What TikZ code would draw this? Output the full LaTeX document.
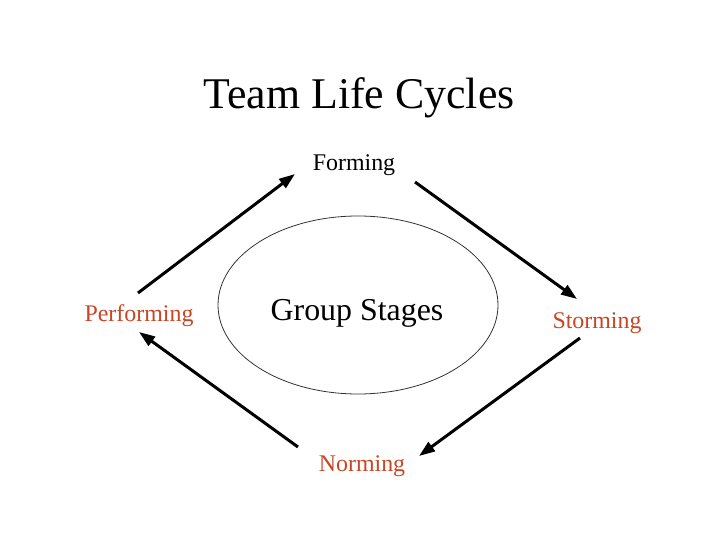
\documentclass[tikz,border=0pt]{standalone}
\usepackage{fontspec}
\setmainfont{Liberation Serif}
\usetikzlibrary{arrows.meta}
\definecolor{stagered}{RGB}{200,70,35}
\tikzset{
  stage/.style={font=\fontsize{24}{28}\selectfont, inner sep=0pt},
  cyclearrow/.style={line width=3bp, -{Triangle[length=16bp,width=11bp]}, shorten >=0bp},
}
\begin{document}
\begin{tikzpicture}[x=1bp,y=-1bp]
\useasboundingbox (0,0) rectangle (720,540);
\node[inner sep=0pt, font=\fontsize{44}{50}\selectfont] (title) at (359,98) {Team Life Cycles};
\node[stage] (forming) at (354,165) {Forming};
\node[stage, text=stagered] (performing) at (139,316) {Performing};
\node[stage, text=stagered] (storming) at (597,323) {Storming};
\node[stage, text=stagered] (norming) at (362,466) {Norming};
\draw[line width=0.8bp, black!80] (358,305) ellipse [x radius=140, y radius=89];
\node[inner sep=0pt, font=\fontsize{32}{36}\selectfont] (group) at (357,313) {Group Stages};
\coordinate (a1) at (138,293); \coordinate (a2) at (295,174);
\coordinate (b1) at (415,182); \coordinate (b2) at (577,299);
\coordinate (c1) at (580,338); \coordinate (c2) at (419,456);
\coordinate (d1) at (298,447); \coordinate (d2) at (139,332);
\draw[cyclearrow] (a1) -- (a2);
\draw[cyclearrow] (b1) -- (b2);
\draw[cyclearrow] (c1) -- (c2);
\draw[cyclearrow] (d1) -- (d2);
\end{tikzpicture}
\end{document}
